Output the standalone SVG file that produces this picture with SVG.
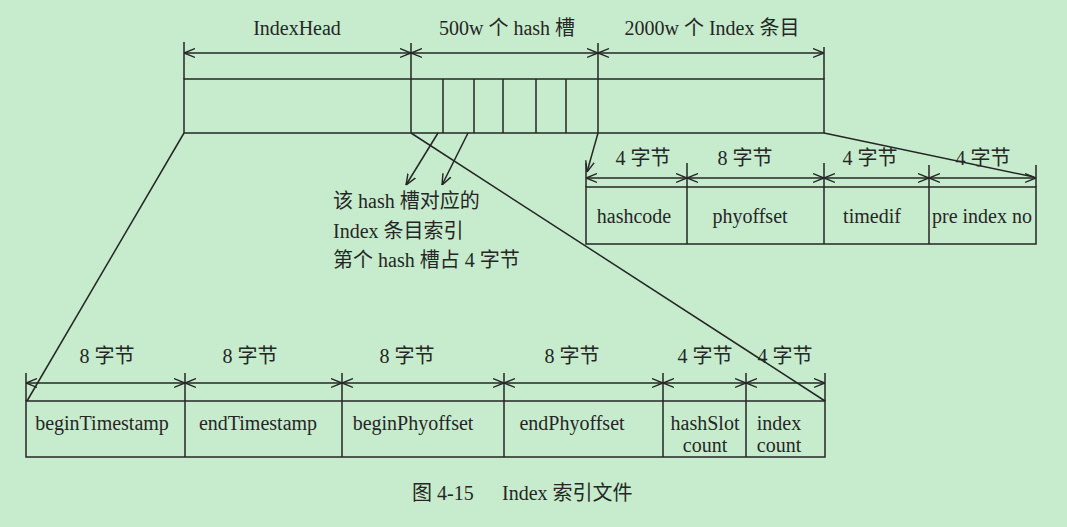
<svg xmlns="http://www.w3.org/2000/svg" width="1067" height="527" viewBox="0 0 1067 527">
<style>
.ln{stroke:#262626;stroke-width:1.5;fill:none}
.t{font-family:"Liberation Serif","Noto Sans CJK SC",serif;font-size:20px;fill:#262626}
.m{text-anchor:middle}
</style>
<defs>
<marker id="ah" viewBox="0 0 10 10" refX="10" refY="5" markerWidth="11" markerHeight="11" markerUnits="userSpaceOnUse" orient="auto-start-reverse">
<path d="M0,1 L10,5 L0,9" fill="none" stroke="#262626" stroke-width="1.3"/>
</marker>
</defs>
<rect width="1067" height="527" fill="#c6eccd"/>

<g id="indexfile">
<rect class="ln" x="184" y="79" width="640" height="54"/>
<path class="ln" d="M184,42V79 M411,43V133 M598,43V133 M824,47V79 M443,79V133 M474,79V133 M503,79V133 M536,79V133 M566,79V133"/>
<text class="t m" x="297" y="35">IndexHead</text>
<text class="t m" x="507" y="35">500w 个 hash 槽</text>
<text class="t m" x="712" y="35">2000w 个 Index 条目</text>
</g>

<g id="indexentry">
<rect class="ln" x="586" y="187" width="450" height="57"/>
<path class="ln" d="M586,163V187 M687,163V244 M824,163V244 M929,165V244 M1036,165V187"/>
<text class="t m" x="643" y="165">4 字节</text>
<text class="t m" x="745" y="165">8 字节</text>
<text class="t m" x="870" y="165">4 字节</text>
<text class="t m" x="983" y="165">4 字节</text>
<text class="t m" x="634" y="223">hashcode</text>
<text class="t m" x="750" y="223">phyoffset</text>
<text class="t m" x="872" y="223">timedif</text>
<text class="t m" x="982" y="223">pre index no</text>
</g>

<g id="indexhead">
<rect class="ln" x="26" y="401" width="799" height="56"/>
<path class="ln" d="M26,373V401 M185,373V457 M342,373V457 M504,373V457 M663,373V457 M746,373V457 M825,373V401"/>
<text class="t m" x="107" y="363">8 字节</text>
<text class="t m" x="250" y="363">8 字节</text>
<text class="t m" x="407" y="363">8 字节</text>
<text class="t m" x="572" y="363">8 字节</text>
<text class="t m" x="705" y="363">4 字节</text>
<text class="t m" x="785" y="363">4 字节</text>
<text class="t m" x="102" y="430">beginTimestamp</text>
<text class="t m" x="258" y="430">endTimestamp</text>
<text class="t m" x="413" y="430">beginPhyoffset</text>
<text class="t m" x="572" y="430">endPhyoffset</text>
<text class="t m" x="705" y="430">hashSlot</text>
<text class="t m" x="705" y="452">count</text>
<text class="t m" x="779" y="430">index</text>
<text class="t m" x="779" y="452">count</text>
</g>

<g id="note">
<text class="t" x="333" y="208">该 hash 槽对应的</text>
<text class="t" x="333" y="238">Index 条目索引</text>
<text class="t" x="333" y="267">第个 hash 槽占 4 字节</text>
</g>

<g id="caption">
<text class="t" x="412" y="500">图 4-15</text>
<text class="t" x="502" y="500">Index 索引文件</text>
</g>

<g id="connectors">
<path class="ln" marker-start="url(#ah)" marker-end="url(#ah)" d="M184,53H411"/>
<path class="ln" marker-start="url(#ah)" marker-end="url(#ah)" d="M411,53H598"/>
<path class="ln" marker-start="url(#ah)" marker-end="url(#ah)" d="M598,53H824"/>
<path class="ln" marker-start="url(#ah)" marker-end="url(#ah)" d="M586,178H687"/>
<path class="ln" marker-start="url(#ah)" marker-end="url(#ah)" d="M687,178H824"/>
<path class="ln" marker-start="url(#ah)" marker-end="url(#ah)" d="M824,178H929"/>
<path class="ln" marker-start="url(#ah)" marker-end="url(#ah)" d="M929,178H1036"/>
<path class="ln" marker-start="url(#ah)" marker-end="url(#ah)" d="M26,383H185"/>
<path class="ln" marker-start="url(#ah)" marker-end="url(#ah)" d="M185,383H342"/>
<path class="ln" marker-start="url(#ah)" marker-end="url(#ah)" d="M342,383H504"/>
<path class="ln" marker-start="url(#ah)" marker-end="url(#ah)" d="M504,383H663"/>
<path class="ln" marker-start="url(#ah)" marker-end="url(#ah)" d="M663,383H746"/>
<path class="ln" marker-start="url(#ah)" marker-end="url(#ah)" d="M746,383H825"/>
<path class="ln" d="M184,133L27,401"/>
<path class="ln" d="M411,133L825,401"/>
<path class="ln" d="M824,133L1034,177"/>
<path class="ln" marker-end="url(#ah)" d="M598,133L587,172"/>
<path class="ln" marker-end="url(#ah)" d="M438,133L406,185"/>
<path class="ln" marker-end="url(#ah)" d="M468,133L442,185"/>
</g>
</svg>
